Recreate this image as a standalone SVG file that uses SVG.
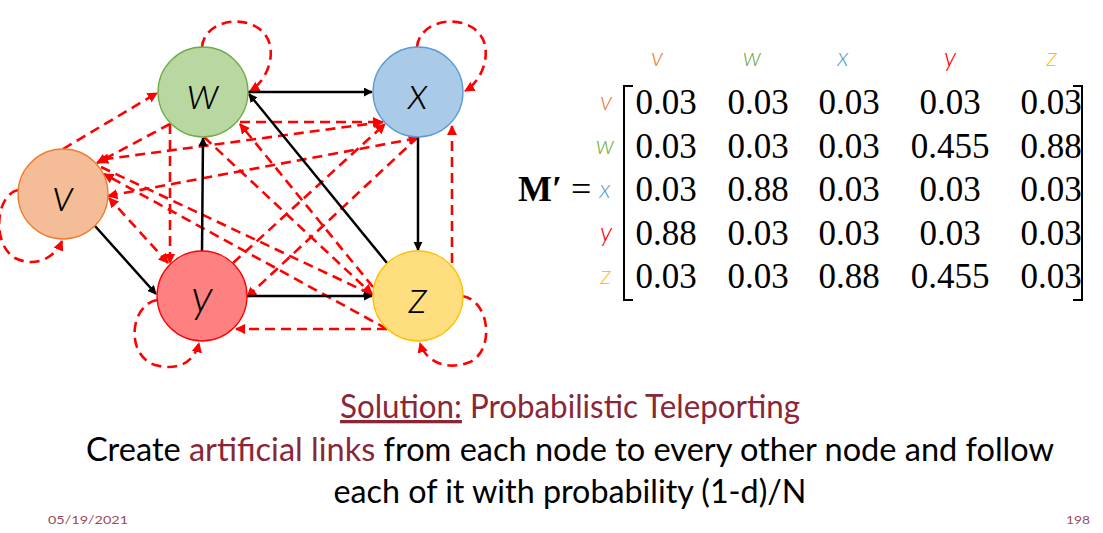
<svg xmlns="http://www.w3.org/2000/svg" width="1103" height="533" viewBox="0 0 1103 533">
<style>
.node{stroke-width:1.3}
.lbl{font-family:Lato,"Open Sans","Liberation Sans",sans-serif;font-style:italic;font-weight:300;font-size:46px;fill:#000;text-anchor:middle}
.tp{fill:none;stroke:#FF0000;stroke-width:2.6;stroke-dasharray:10 6;marker-end:url(#ra)}
.bl{fill:none;stroke:#000;stroke-width:2.5;marker-end:url(#ba)}
.hd{font-family:Lato,"Open Sans","Liberation Sans",sans-serif;font-style:italic;font-weight:300;font-size:26px;text-anchor:middle}
.num{font-family:"Liberation Serif","DejaVu Serif",serif;font-size:35px;fill:#000;text-anchor:middle}
.body{font-family:Lato,"Open Sans","Liberation Sans",sans-serif;font-weight:400;font-size:33px;fill:#000;text-anchor:middle}
.mar{fill:#8B2637}
.small{font-family:Lato,"Liberation Sans",sans-serif;font-size:12px;fill:#9B4A5A}
</style>
<defs>
<marker id="ra" viewBox="0 0 10 10" refX="9" refY="5" markerWidth="4" markerHeight="4" orient="auto-start-reverse" markerUnits="strokeWidth"><path d="M0,0L10,5L0,10z" fill="#FF0000"/></marker>
<marker id="ba" viewBox="0 0 10 10" refX="9" refY="5" markerWidth="3.6" markerHeight="3.6" orient="auto" markerUnits="strokeWidth"><path d="M0,0L10,5L0,10z" fill="#000"/></marker>
</defs>
<rect width="1103" height="533" fill="#fff"/>

<g id="connectors">
  <!-- self loops -->
  <path class="tp" d="M202,47 C205,15 262,12 270,45 C274,65 262,84 250,91"/>
  <path class="tp" d="M417,47 C420,15 477,12 485,45 C489,65 477,84 465,91"/>
  <path class="tp" d="M18,190 C-5,195 -8,245 15,258 C35,268 55,258 62,241"/>
  <path class="tp" d="M157,300 C130,305 125,355 155,365 C180,372 195,360 199,343"/>
  <path class="tp" d="M462,296 C490,300 495,350 470,362 C445,372 425,360 420,343"/>
  <!-- teleport edges -->
  <path class="tp" d="M63,149 L157,93"/>
  <path class="tp" d="M170,124 L97,163"/>
  <path class="tp" d="M383,122 L99,160" style="marker-start:url(#ra)"/>
  <path class="tp" d="M240,122 L382,122"/>
  <path class="tp" d="M373,287 L240,124"/>
  <path class="tp" d="M204,137 L372,294"/>
  <path class="tp" d="M101,167 L373,295"/>
  <path class="tp" d="M387,329 L104,174"/>
  <path class="tp" d="M108,196 L418,138" style="marker-start:url(#ra)"/>
  <path class="tp" d="M168,263 L109,198" style="marker-start:url(#ra)"/>
  <path class="tp" d="M170,124 L170,263"/>
  <path class="tp" d="M233,263 L385,124"/>
  <path class="tp" d="M418,137 L247,297"/>
  <path class="tp" d="M387,329 L236,329"/>
  <path class="tp" d="M452,263 L452,126"/>
  <!-- original links -->
  <path class="bl" d="M248,92 L372,92"/>
  <path class="bl" d="M387,263 L249,94"/>
  <path class="bl" d="M418,137 L418,250"/>
  <path class="bl" d="M202,251 L203,138"/>
  <path class="bl" d="M95,226 L156,294"/>
  <path class="bl" d="M247,296 L372,296"/>
</g>

<g id="node-w"><circle class="node" cx="203" cy="92" r="45" fill="#B9D7A1" stroke="#70AD47"/><text class="lbl" x="203" y="109">w</text></g>
<g id="node-x"><circle class="node" cx="418" cy="92" r="45" fill="#A9CBE8" stroke="#5B9BD5"/><text class="lbl" x="418" y="109">x</text></g>
<g id="node-v"><circle class="node" cx="63" cy="194" r="45" fill="#F5BD97" stroke="#ED7D31"/><text class="lbl" x="63" y="211">v</text></g>
<g id="node-y"><circle class="node" cx="202" cy="296" r="45" fill="#FF8080" stroke="#FF0000"/><text class="lbl" x="202" y="312">y</text></g>
<g id="node-z"><circle class="node" cx="418" cy="296" r="45" fill="#FFDE80" stroke="#FFC000"/><text class="lbl" x="418" y="313">z</text></g>

<g id="matrix">
  <text class="hd" x="657" y="66" fill="#ED7D31">v</text>
  <text class="hd" x="752" y="66" fill="#70AD47">w</text>
  <text class="hd" x="843" y="66" fill="#5B9BD5">x</text>
  <text class="hd" x="950" y="66" fill="#FF0000">y</text>
  <text class="hd" x="1052" y="66" fill="#FFC000">z</text>
  <text class="hd" x="606" y="110" fill="#ED7D31">v</text>
  <text class="hd" x="605" y="154" fill="#70AD47">w</text>
  <text class="hd" x="605" y="198" fill="#5B9BD5">x</text>
  <text class="hd" x="606" y="241" fill="#FF0000">y</text>
  <text class="hd" x="606" y="284" fill="#FFC000">z</text>
  <text x="518" y="201" font-family="'Liberation Serif','DejaVu Serif',serif" font-size="36"><tspan font-weight="bold">M′</tspan> =</text>
  <path d="M633,86 H624 V300 H633 M1073,86 H1082 V300 H1073" fill="none" stroke="#000" stroke-width="2"/>
  <g class="num">
    <text x="666" y="114">0.03</text><text x="758" y="114">0.03</text><text x="849" y="114">0.03</text><text x="950" y="114">0.03</text><text x="1051" y="114">0.03</text>
    <text x="666" y="158">0.03</text><text x="758" y="158">0.03</text><text x="849" y="158">0.03</text><text x="950" y="158">0.455</text><text x="1051" y="158">0.88</text>
    <text x="666" y="201">0.03</text><text x="758" y="201">0.88</text><text x="849" y="201">0.03</text><text x="950" y="201">0.03</text><text x="1051" y="201">0.03</text>
    <text x="666" y="245">0.88</text><text x="758" y="245">0.03</text><text x="849" y="245">0.03</text><text x="950" y="245">0.03</text><text x="1051" y="245">0.03</text>
    <text x="666" y="288">0.03</text><text x="758" y="288">0.03</text><text x="849" y="288">0.88</text><text x="950" y="288">0.455</text><text x="1051" y="288">0.03</text>
  </g>
</g>

<g id="caption">
  <text class="body mar" x="570" y="418" font-size="31" textLength="460" lengthAdjust="spacingAndGlyphs"><tspan text-decoration="underline">Solution:</tspan> Probabilistic Teleporting</text>
  <text class="body" x="570" y="461" textLength="968" lengthAdjust="spacingAndGlyphs">Create <tspan class="mar">artificial links</tspan> from each node to every other node and follow</text>
  <text class="body" x="570" y="503" textLength="473" lengthAdjust="spacingAndGlyphs">each of it with probability (1-d)/N</text>
  <text class="small" x="48" y="524" textLength="80" lengthAdjust="spacingAndGlyphs">05/19/2021</text>
  <text class="small" x="1066" y="524" textLength="24" lengthAdjust="spacingAndGlyphs">198</text>
</g>
</svg>
